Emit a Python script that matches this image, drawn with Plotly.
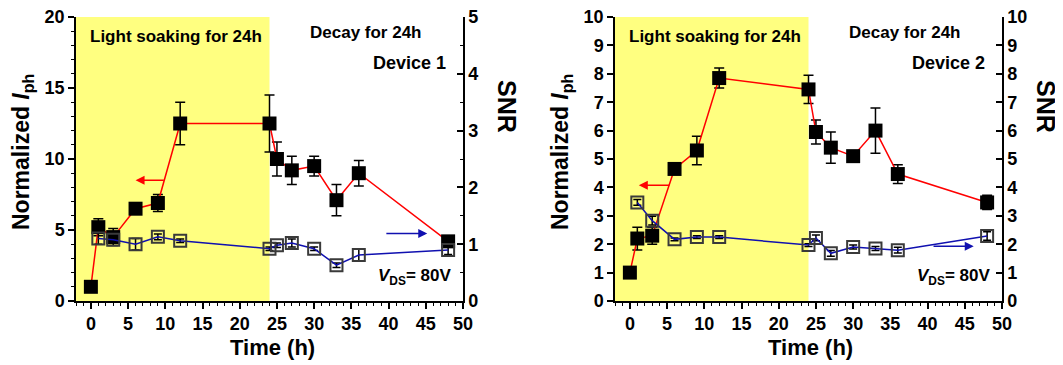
import plotly.graph_objects as go

# ---------------- data ----------------
time_h = [0, 1, 3, 6, 9, 12, 24, 25, 27, 30, 33, 36, 48]
snr_time = [1, 3, 6, 9, 12, 24, 25, 27, 30, 33, 36, 48]

# Device 1
d1_iph = [1.0, 5.2, 4.5, 6.5, 6.9, 12.5, 12.5, 10.0, 9.2, 9.5, 7.1, 9.0, 4.2]
d1_iph_err = [0.1, 0.6, 0.6, 0.3, 0.6, 1.5, 2.0, 1.2, 1.0, 0.7, 1.1, 0.9, 0.2]
d1_snr = [1.10, 1.08, 1.00, 1.13, 1.06, 0.92, 0.98, 1.02, 0.92, 0.63, 0.81, 0.90]
d1_snr_err = [0.10, 0.06, 0.10, 0.05, 0.03, 0.03, 0.04, 0.07, 0.03, 0.04, 0.10, 0.08]

# Device 2
d2_iph = [1.0, 2.2, 2.3, 4.65, 5.3, 7.85, 7.45, 5.95, 5.4, 5.1, 6.0, 4.47, 3.47]
d2_iph_err = [0.05, 0.4, 0.3, 0.15, 0.5, 0.35, 0.5, 0.42, 0.55, 0.1, 0.8, 0.33, 0.25]
d2_snr = [3.47, 2.83, 2.17, 2.25, 2.25, 1.97, 2.22, 1.68, 1.90, 1.85, 1.79, 2.29]
d2_snr_err = [0.10, 0.15, 0.05, 0.05, 0.05, 0.05, 0.10, 0.10, 0.07, 0.07, 0.10, 0.15]

soak_end = 24
x_range = [-2, 50]

FONT = "Liberation Sans, Arial, sans-serif"
YELLOW = "#FFFF80"
RED = "#FF0000"
BLUE = "#1010B0"

# page has an 8px body margin: figure is drawn at (8, 8)
OFF = 8
W, H = 1063 - OFF, 365 - OFF

def px(x):
    return (x - OFF) / W

def py(y):
    return 1 - (y - OFF) / H

fig = go.Figure()

def add_device(iph, iph_err, snr, snr_err, xa, ya, ya2):
    fig.add_trace(go.Scatter(
        x=time_h, y=iph, xaxis=xa, yaxis=ya, mode="lines+markers",
        line=dict(color=RED, width=1.5),
        marker=dict(symbol="square", size=14, color="black"),
        error_y=dict(type="data", array=iph_err, color="black", thickness=1.5, width=5),
        showlegend=False))
    fig.add_trace(go.Scatter(
        x=snr_time, y=snr, xaxis=xa, yaxis=ya2, mode="lines+markers",
        line=dict(color=BLUE, width=1.5),
        marker=dict(symbol="square-open", size=12, color="#3a3a3a", line=dict(width=2)),
        error_y=dict(type="data", array=snr_err, color="black", thickness=1.5, width=4),
        showlegend=False))

add_device(d1_iph, d1_iph_err, d1_snr, d1_snr_err, "x", "y", "y2")
add_device(d2_iph, d2_iph_err, d2_snr, d2_snr_err, "x2", "y3", "y4")

tickfont = dict(family=FONT, size=18, color="black", weight="bold")

def xaxis(domain, anchor):
    return dict(domain=domain, anchor=anchor, range=x_range, tick0=0, dtick=5,
                ticks="outside", ticklen=6, tickwidth=1.5, tickcolor="black",
                showline=True, linecolor="black", linewidth=1.5, showgrid=False,
                zeroline=False, tickfont=tickfont, automargin=False,
                ticklabeloverflow="allow",
                minor=dict(dtick=1, ticks="outside", ticklen=3, tickcolor="black", tickwidth=1))

def topaxis(over, anchor):
    return dict(overlaying=over, anchor=anchor, side="top", range=x_range, tick0=0,
                dtick=5, ticks="inside", ticklen=6, tickwidth=1.5, tickcolor="black",
                showticklabels=False, showline=True, linecolor="black", linewidth=1.5,
                showgrid=False, zeroline=False, automargin=False,
                minor=dict(dtick=1, ticks="inside", ticklen=3, tickcolor="black", tickwidth=1))

ydom = [py(301), py(17)]

def yleft(rng, dt, anchor, minor_dt=None):
    d = dict(domain=ydom, range=rng, dtick=dt, tick0=0, ticks="outside", ticklen=6,
             tickwidth=1.5, tickcolor="black", showline=True, linecolor="black",
             linewidth=1.5, showgrid=False, zeroline=False, tickfont=tickfont,
             anchor=anchor, automargin=False, ticklabeloverflow="allow")
    if minor_dt:
        d["minor"] = dict(dtick=minor_dt, ticks="outside", ticklen=3, tickcolor="black", tickwidth=1)
    return d

def yright(rng, dt, over, anchor, minor_dt=None):
    d = dict(overlaying=over, side="right", anchor=anchor, range=rng, dtick=dt, tick0=0,
             ticks="inside", ticklen=6, tickwidth=1.5, tickcolor="black",
             showline=True, linecolor="black", linewidth=1.5, showgrid=False,
             zeroline=False, tickfont=tickfont, automargin=False,
             ticklabeloverflow="allow")
    if minor_dt:
        d["minor"] = dict(dtick=minor_dt, ticks="inside", ticklen=3, tickcolor="black", tickwidth=1)
    return d

fig.update_layout(
    width=W, height=H, margin=dict(l=0, r=0, t=0, b=0, autoexpand=False),
    paper_bgcolor="white", plot_bgcolor="white",
    xaxis=xaxis([px(76), px(463)], "y"),
    xaxis2=xaxis([px(615), px(1002)], "y3"),
    xaxis3=topaxis("x", "y"),
    xaxis4=topaxis("x2", "y3"),
    yaxis=yleft([0, 20], 5, "x", 1),
    yaxis2=yright([0, 5], 1, "y", "x", 0.5),
    yaxis3=yleft([0, 10], 1, "x2"),
    yaxis4=yright([0, 10], 1, "y3", "x2"),
)

# yellow light-soaking region
for xr, yr in (("x", "y"), ("x2", "y3")):
    fig.add_shape(type="rect", xref=xr, yref=f"{yr} domain", x0=x_range[0], x1=soak_end,
                  y0=0, y1=1, fillcolor=YELLOW, line=dict(width=0), layer="below")

ann_font = dict(family=FONT, size=17, color="black", weight="bold")
big_font = dict(family=FONT, size=23, color="black", weight="bold")
time_font = dict(family=FONT, size=22, color="black", weight="bold")
snr_font = dict(family=FONT, size=25, color="black", weight="bold")

panels = [
    dict(xr="x", yr="y", yr2="y2", ymax=20, dev="Device 1",
         red=(10, 8.5, 6), blue=(39.5, 1.19, 45.2),
         ytitle_x=22, snr_x=507, time_x=272),
    dict(xr="x2", yr="y3", yr2="y4", ymax=10, dev="Device 2",
         red=(5.5, 4.08, 1.2), blue=(40.6, 1.93, 46.2),
         ytitle_x=561, snr_x=1046, time_x=810),
]

C = dict(xanchor="center", yanchor="middle", showarrow=False)

for p in panels:
    ym = p["ymax"]
    fig.add_annotation(text="Light soaking for 24h", xref=p["xr"], yref=p["yr"],
                       x=11.5, y=ym * 0.933, font=ann_font, **C)
    fig.add_annotation(text="Decay for 24h", xref=p["xr"], yref=p["yr"],
                       x=37, y=ym * 0.945, font=ann_font, **C)
    fig.add_annotation(text=p["dev"], xref=p["xr"], yref=p["yr"], xanchor="right",
                       yanchor="middle", x=48.0, y=ym * 0.838, showarrow=False,
                       font=dict(family=FONT, size=18, color="black", weight="bold"))
    fig.add_annotation(text="<i>V</i><sub>DS</sub>= 80V", xref=p["xr"], yref=p["yr"],
                       xanchor="right", yanchor="middle", x=48.7, y=ym * 0.085,
                       showarrow=False, font=ann_font)
    rx0, ry, rx1 = p["red"]
    fig.add_annotation(x=rx1, y=ry, ax=rx0, ay=ry, xref=p["xr"], yref=p["yr"],
                       axref=p["xr"], ayref=p["yr"], text="", showarrow=True,
                       arrowhead=2, arrowsize=1.2, arrowwidth=1.5, arrowcolor=RED)
    bx0, by, bx1 = p["blue"]
    fig.add_annotation(x=bx1, y=by, ax=bx0, ay=by, xref=p["xr"], yref=p["yr2"],
                       axref=p["xr"], ayref=p["yr2"], text="", showarrow=True,
                       arrowhead=2, arrowsize=1.2, arrowwidth=1.5, arrowcolor=BLUE)
    fig.add_annotation(text="Normalized <i>I</i><sub>ph</sub>", xref="paper", yref="paper",
                       x=px(p["ytitle_x"]), y=py(152), textangle=-90, font=big_font, **C)
    fig.add_annotation(text="SNR", xref="paper", yref="paper", x=px(p["snr_x"]), y=py(106),
                       textangle=90, font=snr_font, **C)
    fig.add_annotation(text="Time (h)", xref="paper", yref="paper", x=px(p["time_x"]),
                       y=py(347), font=time_font, **C)

fig.write_html("out.html")
